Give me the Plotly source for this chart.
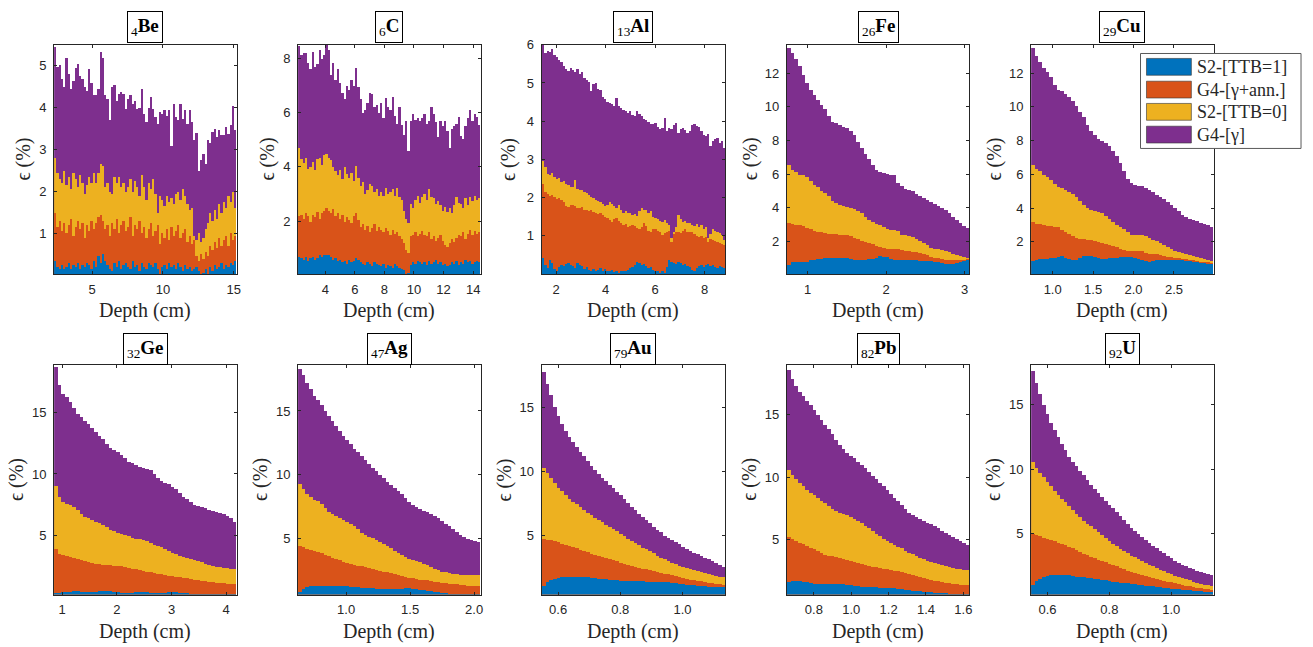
import numpy as np
import plotly.graph_objects as go

W, H = 1313, 647

# ---------------- data ----------------
elements = ["Be", "C", "Al", "Fe", "Cu", "Ge", "Ag", "Au", "Pb", "U"]
atomic_numbers = [4, 6, 13, 26, 29, 32, 47, 79, 82, 92]
depth_lo = [2.32, 2.16, 1.42, 0.737, 0.734, 0.854, 0.625, 0.547, 0.656, 0.547]
depth_hi = [15.2, 14.5, 8.83, 3.06, 2.99, 4.19, 2.05, 1.137, 1.632, 1.137]
eff_lo = [0.02, 0.05, 0.0, 0.06, 0.08, 0.25, 0.6, 0.4, 0.58, 0.28]
eff_hi = [5.5, 8.5, 6.005, 13.7, 13.7, 18.8, 18.6, 18.35, 19.0, 18.06]
x_tickvals = [[5, 10, 15], [4, 6, 8, 10, 12, 14], [2, 4, 6, 8], [1, 2, 3],
              [1.0, 1.5, 2.0, 2.5], [1, 2, 3, 4], [1.0, 1.5, 2.0], [0.6, 0.8, 1.0],
              [0.8, 1.0, 1.2, 1.4, 1.6], [0.6, 0.8, 1.0]]
x_tickfmt = ["", "", "", "", ".1f", "", ".1f", ".1f", ".1f", ".1f"]
y_tickvals = [[1, 2, 3, 4, 5], [2, 4, 6, 8], [1, 2, 3, 4, 5, 6],
              [2, 4, 6, 8, 10, 12], [2, 4, 6, 8, 10, 12],
              [5, 10, 15], [5, 10, 15], [5, 10, 15], [5, 10, 15], [5, 10, 15]]

series_names = ["S2-[TTB=1]", "G4-[γ+ann.]", "S2-[TTB=0]", "G4-[γ]"]
series_colors = ["#0072BD", "#D95319", "#EDB120", "#7E2F8E"]

# Be
be_ttb1 = [0.35, 0.2, 0.15, 0.25, 0.15, 0.2, 0.3, 0.15, 0.25, 0.2, 0.3, 0.15, 0.25, 0.2, 0.3, 0.25, 0.15, 0.35, 0.2, 0.45,
           0.3, 0.5, 0.35, 0.25, 0.15, 0.1, 0.3, 0.2, 0.35, 0.15, 0.25, 0.3, 0.2, 0.15, 0.35, 0.2, 0.25, 0.1, 0.3, 0.2,
           0.15, 0.3, 0.25, 0.2, 0.3, 0.15, 0.03, 0.2, 0.25, 0.15, 0.3, 0.2, 0.25, 0.15, 0.3, 0.2, 0.1, 0.25, 0.15, 0.2,
           0.1, 0.15, 0.2, 0.1, 0.02, 0.05, 0.15, 0.02, 0.2, 0.1, 0.25, 0.15, 0.2, 0.3, 0.15, 0.25, 0.2, 0.3, 0.25, 0.35]
be_ann = [1.5, 1.15, 1.3, 1.05, 1.25, 1.0, 1.2, 1.35, 0.95, 1.15, 1.3, 1.1, 1.25, 0.9, 1.2, 1.05, 1.3, 1.1, 1.25, 1.4,
          1.45, 1.3, 1.1, 1.2, 0.95, 1.25, 1.1, 1.35, 1.0, 1.2, 1.3, 1.05, 1.15, 1.4, 0.95, 1.2, 1.1, 1.3, 1.0, 1.15,
          0.9, 1.1, 1.25, 0.95, 1.05, 1.2, 0.75, 1.0, 0.9, 1.1, 0.85, 1.15, 0.95, 1.05, 1.2, 0.9, 1.0, 1.1, 0.8, 0.95,
          0.75, 0.85, 0.45, 0.35, 0.5, 0.4, 0.55, 0.45, 0.7, 0.6, 0.8, 0.65, 0.9, 0.7, 0.85, 0.95, 0.7, 1.0, 0.85, 0.95]
be_ttb0 = [2.8, 2.45, 2.3, 2.2, 2.5, 2.15, 2.35, 2.05, 2.45, 2.3, 2.1, 2.4, 2.2, 1.95, 2.15, 2.35, 2.2, 2.45, 2.2,
           2.45, 2.65, 2.6, 2.1, 2.2, 2.0, 1.95, 2.35, 2.2, 2.35, 2.1, 2.2, 2.0, 2.1, 2.3, 2.0, 2.25, 2.1, 1.9, 2.4,
           2.1, 1.8, 2.2, 2.05, 2.3, 1.95, 1.5, 1.9, 1.8, 1.65, 1.9, 1.75, 1.85, 1.7, 1.95, 2.0, 1.8, 2.05, 1.9, 1.7,
           1.55, 1.6, 0.95, 0.85, 1.0, 0.8, 0.9, 1.1, 1.25, 1.5, 1.3, 1.55, 1.35, 1.7, 1.5, 1.75, 1.6, 1.9, 1.75, 2.0, 1.6]
be_gamma = [5.45, 4.98, 5.02, 4.7, 4.5, 5.18, 4.8, 4.45, 4.65, 4.95, 5.05, 4.75, 4.7, 4.5, 4.4, 4.92, 4.6, 4.3, 4.3, 4.45,
            5.33, 5.2, 4.3, 4.2, 3.7, 4.5, 4.55, 4.17, 4.33, 4.37, 4.32, 3.98, 4.2, 4.3, 4.1, 4.17, 3.98, 4.0, 4.45, 3.86,
            3.66, 4.0, 4.25, 3.98, 3.78, 3.62, 3.9, 3.86, 3.94, 3.8, 3.95, 3.1, 4.1, 3.78, 3.7, 4.1, 3.74, 3.94, 3.62, 3.94,
            3.66, 3.23, 3.39, 2.5, 2.76, 2.9, 2.66, 3.23, 3.15, 3.42, 3.5, 3.3, 3.46, 3.35, 3.35, 3.54, 3.38, 3.6, 4.05, 3.46]

# C
c_ttb1 = [0.7, 0.65, 0.6, 0.7, 0.55, 0.65, 0.7, 0.6, 0.65, 0.75, 0.7, 0.75, 0.78, 0.75, 0.7, 0.6, 0.65, 0.55, 0.6, 0.5,
          0.55, 0.45, 0.6, 0.5, 0.55, 0.65, 0.6, 0.5, 0.45, 0.4, 0.5, 0.45, 0.35, 0.5, 0.45, 0.4, 0.35, 0.45, 0.3, 0.4,
          0.35, 0.3, 0.45, 0.35, 0.3, 0.25, 0.2, 0.05, 0.1, 0.4, 0.5, 0.45, 0.55, 0.5, 0.45, 0.5, 0.4, 0.55, 0.45, 0.5,
          0.6, 0.45, 0.5, 0.4, 0.45, 0.35, 0.4, 0.5, 0.45, 0.55, 0.4, 0.5, 0.45, 0.6, 0.5, 0.55, 0.45, 0.5, 0.55, 0.5]
c_ann = [2.2, 2.25, 2.1, 2.3, 2.2, 2.0, 2.25, 2.15, 2.35, 2.1, 2.3, 2.4, 2.5, 2.4, 2.3, 2.45, 2.2, 2.3, 2.1, 2.25,
         2.0, 2.15, 2.05, 1.95, 2.2, 2.3, 2.05, 1.8, 1.9, 1.7, 1.85, 1.6, 1.75, 1.9, 1.65, 1.8, 1.7, 1.6, 1.75, 1.65,
         1.5, 1.7, 1.55, 1.6, 1.45, 1.35, 1.2, 0.95, 0.85, 1.45, 1.5, 1.6, 1.45, 1.55, 1.65, 1.5, 1.45, 1.6, 1.35, 1.45,
         1.3, 1.4, 1.5, 1.3, 1.15, 1.05, 1.2, 1.35, 1.25, 1.4, 1.5, 1.45, 1.6, 1.35, 1.55, 1.7, 1.5, 1.65, 1.55, 1.6]
c_ttb0 = [4.7, 4.3, 4.15, 4.35, 3.95, 4.0, 4.2, 3.9, 4.3, 4.35, 4.1, 4.45, 4.5, 4.35, 4.25, 4.0, 3.85, 3.7, 3.9, 3.55,
          4.0, 3.75, 3.6, 3.8, 3.5, 4.05, 3.6, 3.3, 3.45, 3.0, 3.15, 3.4, 3.3, 3.1, 3.2, 2.95, 3.1, 2.95, 3.25, 3.0,
          3.1, 3.2, 2.95, 3.25, 2.9, 2.8, 2.4, 2.1, 1.95, 2.65, 2.5, 2.8, 2.95, 2.7, 2.9, 3.0, 2.8, 3.2, 2.9, 2.85,
          2.65, 2.75, 2.6, 2.4, 2.55, 2.35, 2.5, 2.3, 2.6, 2.9, 2.7, 2.65, 2.5, 2.85, 2.6, 2.9, 2.75, 2.95, 2.8, 2.85]
c_gamma = [8.45, 8.15, 8.2, 8.2, 7.85, 7.6, 8.25, 7.7, 7.8, 8.3, 8.0, 8.15, 8.5,
           8.3, 7.4, 7.85, 7.2, 7.6, 7.1, 6.75, 6.5, 7.0, 6.85, 7.2, 7.0, 7.65,
           6.95, 6.5, 6.0, 6.1, 6.35, 6.75, 6.7, 6.2, 6.3, 6.0, 6.35, 5.8,
           6.55, 6.2, 6.1, 6.6, 5.9, 5.6, 6.2, 5.55, 5.2, 5.7, 4.6,
           5.7, 5.95, 5.75, 5.8, 5.7, 5.8, 5.95, 5.6, 5.7, 6.2,
           5.95, 5.65, 5.1, 5.7, 5.5, 5.7, 5.35, 4.7,
           5.4, 5.5, 5.6, 5.85, 5.15, 5.05, 5.5, 5.8, 6.1, 5.7, 5.95, 5.85, 5.55]

# Al
al_ttb1 = [0.43, 0.25, 0.17, 0.39, 0.3, 0.15, 0.08, 0.2, 0.26, 0.22, 0.28, 0.3, 0.25, 0.21, 0.18, 0.3, 0.25, 0.21, 0.15, 0.2,
           0.13, 0.1, 0.15, 0.08, 0.12, 0.17, 0.1, 0.15, 0.08, 0.1, 0.13, 0.06, 0.1, 0.04, 0.08, 0.1, 0.08, 0.12, 0.17, 0.2,
           0.25, 0.34, 0.3, 0.26, 0.28, 0.22, 0.17, 0.2, 0.12, 0.08, 0.1, 0.04, 0.08, 0.05, 0.2, 0.39, 0.32, 0.3, 0.28, 0.34,
           0.3, 0.26, 0.28, 0.22, 0.2, 0.13, 0.1, 0.18, 0.21, 0.25, 0.2, 0.26, 0.28, 0.22, 0.25, 0.2, 0.17, 0.22, 0.2, 0.17]
al_ann = [2.37, 2.15, 2.1, 2.05, 2.08, 2.03, 1.98, 2.0, 1.95, 1.9, 1.8, 1.77, 1.82, 1.81, 1.78, 1.75, 1.73, 1.76, 1.7, 1.68,
          1.66, 1.68, 1.64, 1.62, 1.58, 1.6, 1.55, 1.51, 1.48, 1.42, 1.38, 1.45, 1.47, 1.4, 1.35, 1.3, 1.32, 1.25, 1.28, 1.3,
          1.26, 1.22, 1.2, 1.25, 1.34, 1.28, 1.15, 1.12, 1.18, 1.2, 1.15, 1.1, 1.03, 1.08, 1.12, 1.15, 0.85, 1.05, 1.1, 1.12,
          1.08, 1.15, 1.2, 1.12, 1.1, 1.12, 1.05, 1.0, 0.99, 1.02, 0.95, 0.98, 0.85, 0.92, 0.9, 0.88, 0.85, 0.82, 0.8, 0.78]
al_ttb0 = [2.98, 2.8, 2.62, 2.6, 2.65, 2.55, 2.5, 2.52, 2.42, 2.45, 2.38, 2.35, 2.3, 2.28, 2.46, 2.25, 2.2, 2.22, 2.15, 2.12,
           2.08, 2.03, 2.0, 1.95, 1.92, 1.9, 1.85, 1.8, 1.83, 1.9, 1.85, 1.8, 1.75, 1.81, 1.7, 1.6, 1.65, 1.62, 1.6, 1.55,
           1.58, 1.52, 1.65, 1.73, 1.7, 1.68, 1.6, 1.66, 1.5, 1.47, 1.45, 1.4, 1.38, 1.42, 1.35, 1.3, 0.95, 1.12, 1.25, 1.55,
           1.45, 1.38, 1.4, 1.34, 1.36, 1.3, 1.28, 1.32, 1.25, 1.3, 1.2, 1.25, 0.95, 1.05, 1.2, 1.15, 1.1, 1.08, 1.03, 0.9]
al_gamma = [6.0, 5.8, 5.85, 5.82, 5.9, 5.75, 5.7, 5.62, 5.55, 5.45, 5.38, 5.33, 5.4, 5.36, 5.3, 5.38, 5.25, 5.3, 5.15, 5.1,
            5.05, 4.8, 4.98, 5.0, 4.85, 4.82, 4.65, 4.6, 4.52, 4.5, 4.45, 4.4, 4.62, 4.42, 4.35, 4.3, 4.28, 4.22, 4.27, 4.18,
            4.14, 4.27, 4.2, 4.14, 4.08, 4.05, 4.0, 3.95, 3.93, 3.97, 3.85, 3.8, 3.84, 4.1, 3.75, 3.84, 3.8, 3.9, 3.97, 3.71,
            3.8, 3.84, 3.78, 3.71, 3.75, 3.9, 3.93, 3.88, 3.85, 3.75, 3.65, 3.62, 3.67, 3.37, 3.5, 3.54, 3.58, 3.45, 3.5, 3.32]

# Fe
fe_ttb1 = [0.6, 0.82, 0.82, 0.8, 0.8, 0.82, 0.9, 0.95, 0.98, 1.0, 1.02, 1.04, 1.05, 1.05, 1.05, 1.05, 1.02, 0.97, 0.94, 0.92,
           0.9, 0.92, 0.96, 1.0, 1.06, 1.13, 1.12, 1.08, 1.0, 0.92, 0.9, 0.9, 0.9, 0.93, 0.95, 0.92, 0.88, 0.85, 0.85, 0.85,
           0.83, 0.8, 0.75, 0.7, 0.66, 0.7, 0.75, 0.8, 0.85, 0.93]
fe_ann = [3.15, 3.05, 3.0, 2.98, 2.92, 2.85, 2.75, 2.65, 2.6, 2.56, 2.52, 2.48, 2.45, 2.44, 2.43, 2.41, 2.4, 2.33, 2.25, 2.15,
          2.08, 2.0, 1.95, 1.85, 1.78, 1.72, 1.65, 1.6, 1.6, 1.58, 1.55, 1.5, 1.45, 1.43, 1.4, 1.37, 1.33, 1.28, 1.2, 1.12,
          1.07, 1.02, 0.98, 0.95, 0.93, 0.9, 0.9, 0.92, 0.94, 0.96]
fe_ttb0 = [6.55, 6.3, 6.15, 6.0, 5.95, 5.85, 5.6, 5.4, 5.25, 5.05, 4.9, 4.7, 4.45, 4.33, 4.22, 4.15, 4.08, 4.02, 3.95, 3.82,
           3.7, 3.5, 3.3, 3.18, 3.08, 2.98, 2.87, 2.75, 2.7, 2.7, 2.65, 2.42, 2.38, 2.33, 2.28, 2.18, 2.08, 1.95, 1.8, 1.65,
           1.58, 1.55, 1.5, 1.45, 1.38, 1.3, 1.2, 1.13, 1.08, 1.05]
fe_gamma = [13.55, 13.2, 12.85, 12.45, 11.9, 11.45, 11.05, 10.75, 10.45, 10.15, 9.9, 9.5, 9.15, 9.05, 8.93, 8.85, 8.75, 8.6,
            8.35, 7.95, 7.6, 7.25, 6.9, 6.55, 6.28, 6.18, 6.1, 6.03, 6.0, 5.95, 5.5, 5.3, 5.15, 5.1, 5.0, 4.85, 4.7, 4.6,
            4.48, 4.38, 4.25, 4.15, 4.02, 3.88, 3.7, 3.5, 3.3, 3.12, 2.95, 2.82]

# Cu
cu_ttb1 = [0.88, 0.95, 0.98, 1.0, 1.02, 1.04, 1.07, 1.12, 1.15, 1.05, 0.97, 0.95, 0.95, 1.05, 1.15, 1.18, 1.2, 1.12, 1.03, 1.0,
           1.02, 1.05, 1.06, 1.08, 1.09, 1.1, 1.1, 1.1, 1.05, 0.98, 0.92, 0.88, 0.85, 0.88, 0.93, 0.95, 0.95, 0.95, 0.95, 0.95,
           0.95, 0.93, 0.9, 0.86, 0.83, 0.8, 0.77, 0.75, 0.72, 0.7]
cu_ann = [3.2, 3.1, 3.05, 3.0, 2.97, 2.95, 2.92, 2.88, 2.75, 2.6, 2.5, 2.38, 2.25, 2.2, 2.17, 2.14, 2.1, 2.06, 2.0, 1.95,
          1.9, 1.85, 1.78, 1.7, 1.62, 1.55, 1.48, 1.45, 1.45, 1.45, 1.45, 1.35, 1.27, 1.28, 1.3, 1.25, 1.17, 1.13, 1.1, 1.06,
          1.03, 1.0, 0.98, 0.95, 0.92, 0.88, 0.85, 0.82, 0.8, 0.78]
cu_ttb0 = [6.55, 6.35, 6.2, 6.0, 5.85, 5.7, 5.45, 5.3, 5.22, 5.12, 5.0, 4.85, 4.7, 4.42, 4.2, 4.0, 3.88, 3.82, 3.78, 3.7,
           3.55, 3.4, 3.2, 3.0, 2.9, 2.78, 2.6, 2.45, 2.45, 2.45, 2.45, 2.35, 2.25, 2.15, 2.05, 1.95, 1.83, 1.72, 1.6, 1.48,
           1.4, 1.35, 1.3, 1.25, 1.2, 1.14, 1.05, 1.0, 0.95, 0.9]
cu_gamma = [13.5, 13.05, 12.7, 12.35, 12.1, 11.8, 11.35, 11.05, 10.95, 10.8, 10.6, 10.35, 10.1, 9.75, 9.45, 8.95, 8.6, 8.35,
            8.15, 8.02, 7.9, 7.7, 7.4, 7.1, 6.7, 6.2, 5.75, 5.5, 5.38, 5.35, 5.35, 5.22, 5.1, 4.95, 4.8, 4.7, 4.55, 4.4,
            4.2, 4.02, 3.85, 3.62, 3.5, 3.4, 3.32, 3.23, 3.12, 3.06, 3.0, 2.92]

# Ge
ge_ttb1 = [0.35, 0.38, 0.42, 0.45, 0.48, 0.5, 0.5, 0.48, 0.45, 0.44, 0.45, 0.48, 0.52, 0.55, 0.55, 0.52, 0.48, 0.44, 0.4, 0.38,
           0.36, 0.38, 0.42, 0.45, 0.46, 0.44, 0.4, 0.37, 0.35, 0.36, 0.38, 0.42, 0.45, 0.44, 0.4, 0.36, 0.34, 0.33, 0.33, 0.32,
           0.32, 0.31, 0.3, 0.3, 0.3, 0.3, 0.3, 0.3, 0.3, 0.3]
ge_ann = [3.9, 3.55, 3.45, 3.35, 3.25, 3.18, 3.1, 3.02, 2.95, 2.85, 2.78, 2.72, 2.68, 2.65, 2.62, 2.6, 2.58, 2.55, 2.52, 2.48,
          2.42, 2.35, 2.28, 2.2, 2.13, 2.07, 2.03, 1.98, 1.93, 1.88, 1.82, 1.77, 1.72, 1.68, 1.65, 1.62, 1.58, 1.52, 1.46, 1.41,
          1.36, 1.31, 1.27, 1.24, 1.21, 1.18, 1.15, 1.13, 1.11, 1.1]
ge_ttb0 = [9.0, 8.1, 7.7, 7.6, 7.45, 7.3, 7.05, 6.75, 6.55, 6.4, 6.25, 6.15, 6.0, 5.85, 5.7, 5.5, 5.35, 5.2, 5.1, 5.02,
           4.95, 4.85, 4.75, 4.7, 4.63, 4.55, 4.4, 4.25, 4.15, 4.05, 3.9, 3.75, 3.6, 3.5, 3.4, 3.3, 3.22, 3.15, 3.05, 2.95,
           2.85, 2.75, 2.67, 2.58, 2.5, 2.45, 2.42, 2.38, 2.33, 2.28]
ge_gamma = [18.6, 17.2, 16.45, 16.2, 15.8, 15.3, 14.85, 14.6, 14.3, 14.0, 13.7, 13.35, 13.05, 12.8, 12.45, 12.1, 11.95, 11.8,
            11.55, 11.25, 11.0, 10.85, 10.7, 10.55, 10.45, 10.38, 10.3, 9.95, 9.7, 9.45, 9.3, 9.15, 8.95, 8.75, 8.45, 8.15,
            7.95, 7.75, 7.5, 7.38, 7.3, 7.22, 7.12, 7.0, 6.88, 6.8, 6.72, 6.6, 6.42, 6.1]

# Ag
ag_ttb1 = [0.8, 1.05, 1.2, 1.28, 1.3, 1.3, 1.3, 1.3, 1.3, 1.3, 1.3, 1.3, 1.28, 1.25, 1.22, 1.18, 1.15, 1.13, 1.12, 1.1,
           1.08, 1.07, 1.06, 1.05, 1.03, 1.02, 1.0, 1.02, 1.06, 1.1, 1.08, 1.04, 1.0, 0.96, 0.92, 0.89, 0.86, 0.82, 0.78, 0.74,
           0.7, 0.66, 0.63, 0.61, 0.6, 0.6, 0.6, 0.6, 0.6, 0.6]
ag_ann = [4.4, 4.3, 4.2, 4.1, 4.03, 3.95, 3.85, 3.72, 3.6, 3.48, 3.38, 3.27, 3.15, 3.08, 3.0, 2.93, 2.87, 2.8, 2.73, 2.67,
          2.6, 2.53, 2.47, 2.4, 2.33, 2.27, 2.2, 2.15, 2.08, 2.0, 1.93, 1.86, 1.8, 1.77, 1.73, 1.7, 1.66, 1.6, 1.55, 1.5,
          1.47, 1.44, 1.41, 1.39, 1.36, 1.33, 1.3, 1.28, 1.26, 1.25]
ag_ttb0 = [9.3, 8.9, 8.45, 8.25, 8.05, 7.9, 7.7, 7.4, 7.1, 6.9, 6.75, 6.6, 6.45, 6.3, 6.12, 5.95, 5.7, 5.45, 5.25, 5.1,
           5.0, 4.88, 4.7, 4.55, 4.4, 4.25, 4.05, 3.85, 3.7, 3.55, 3.4, 3.3, 3.25, 3.12, 3.0, 2.88, 2.75, 2.6, 2.5, 2.4,
           2.33, 2.27, 2.2, 2.17, 2.15, 2.14, 2.14, 2.15, 2.15, 2.15]
ag_gamma = [18.3, 17.8, 17.2, 16.7, 16.2, 15.85, 15.45, 15.0, 14.6, 14.2, 13.85, 13.4, 13.0, 12.7, 12.4, 12.05, 11.75, 11.45,
            11.15, 10.85, 10.55, 10.25, 9.95, 9.7, 9.45, 9.2, 8.95, 8.7, 8.45, 8.15, 7.85, 7.6, 7.45, 7.3, 7.18, 7.05, 6.9,
            6.78, 6.6, 6.4, 6.15, 5.95, 5.75, 5.5, 5.3, 5.1, 4.92, 4.85, 4.8, 4.75]

# Au
au_ttb1 = [1.1, 1.35, 1.5, 1.6, 1.68, 1.74, 1.78, 1.8, 1.8, 1.8, 1.78, 1.76, 1.73, 1.7, 1.67, 1.64, 1.61, 1.58, 1.56, 1.53,
           1.51, 1.49, 1.48, 1.46, 1.45, 1.44, 1.43, 1.42, 1.41, 1.4, 1.4, 1.39, 1.38, 1.37, 1.35, 1.33, 1.29, 1.25, 1.21, 1.18,
           1.15, 1.12, 1.09, 1.06, 1.03, 1.0, 0.99, 0.98, 0.96, 0.95]
au_ann = [4.75, 4.7, 4.63, 4.55, 4.47, 4.38, 4.3, 4.2, 4.1, 4.0, 3.9, 3.8, 3.7, 3.6, 3.5, 3.42, 3.35, 3.28, 3.2, 3.1,
          3.0, 2.9, 2.8, 2.72, 2.65, 2.57, 2.5, 2.43, 2.37, 2.3, 2.23, 2.17, 2.1, 2.03, 1.97, 1.9, 1.83, 1.76, 1.7, 1.63,
          1.56, 1.5, 1.46, 1.42, 1.37, 1.33, 1.28, 1.24, 1.19, 1.13]
au_ttb0 = [10.3, 9.9, 9.5, 9.1, 8.75, 8.5, 8.15, 7.85, 7.65, 7.45, 7.25, 7.0, 6.8, 6.6, 6.38, 6.22, 6.08, 5.87, 5.68, 5.52,
           5.35, 5.15, 4.95, 4.75, 4.6, 4.45, 4.25, 4.05, 3.92, 3.78, 3.62, 3.45, 3.28, 3.15, 3.02, 2.9, 2.78, 2.65, 2.55, 2.45,
           2.37, 2.3, 2.22, 2.14, 2.08, 2.02, 1.95, 1.88, 1.8, 1.73]
au_gamma = [17.8, 16.9, 16.0, 15.1, 14.4, 13.7, 13.2, 12.7, 12.3, 11.9, 11.55, 11.2, 10.85, 10.45, 10.1, 9.85, 9.55, 9.25,
            8.95, 8.7, 8.4, 8.15, 7.85, 7.55, 7.25, 7.0, 6.7, 6.45, 6.2, 6.0, 5.7, 5.45, 5.25, 5.0, 4.8, 4.65, 4.5, 4.32,
            4.15, 3.98, 3.82, 3.68, 3.55, 3.42, 3.28, 3.15, 3.0, 2.87, 2.72, 2.58]

# Pb
pb_ttb1 = [1.6, 1.7, 1.7, 1.68, 1.62, 1.56, 1.5, 1.45, 1.42, 1.4, 1.4, 1.4, 1.4, 1.4, 1.4, 1.4, 1.38, 1.33, 1.28, 1.23,
           1.19, 1.15, 1.15, 1.15, 1.15, 1.14, 1.13, 1.12, 1.1, 1.07, 1.03, 0.99, 0.96, 0.93, 0.9, 0.87, 0.85, 0.82, 0.79, 0.77,
           0.74, 0.71, 0.68, 0.66, 0.64, 0.62, 0.61, 0.6, 0.6, 0.6]
pb_ann = [5.2, 5.05, 4.9, 4.75, 4.62, 4.48, 4.35, 4.2, 4.05, 3.9, 3.78, 3.7, 3.63, 3.56, 3.5, 3.43, 3.37, 3.3, 3.22, 3.13,
          3.05, 2.97, 2.9, 2.82, 2.75, 2.7, 2.64, 2.59, 2.54, 2.48, 2.43, 2.37, 2.3, 2.23, 2.16, 2.09, 2.02, 1.94, 1.86, 1.78,
          1.7, 1.63, 1.57, 1.52, 1.48, 1.44, 1.4, 1.37, 1.34, 1.31]
pb_ttb0 = [10.6, 10.2, 9.85, 9.55, 9.25, 9.0, 8.75, 8.55, 8.35, 8.1, 7.9, 7.7, 7.45, 7.25, 7.1, 7.02, 6.95, 6.8, 6.65, 6.5,
           6.35, 6.1, 5.9, 5.7, 5.45, 5.25, 5.05, 4.85, 4.7, 4.55, 4.42, 4.3, 4.1, 3.95, 3.8, 3.67, 3.53, 3.4, 3.3, 3.18,
           3.1, 3.02, 2.95, 2.88, 2.8, 2.73, 2.65, 2.6, 2.57, 2.55]
pb_gamma = [18.6, 17.9, 17.35, 16.85, 16.5, 16.1, 15.75, 15.4, 15.0, 14.6, 14.2, 13.85, 13.45, 13.0, 12.6, 12.25, 11.95, 11.7,
            11.5, 11.25, 11.0, 10.75, 10.45, 10.1, 9.85, 9.55, 9.25, 8.95, 8.65, 8.35, 8.05, 7.75, 7.45, 7.15, 6.95, 6.8,
            6.65, 6.5, 6.35, 6.2, 6.05, 5.9, 5.7, 5.5, 5.35, 5.2, 5.05, 4.9, 4.75, 4.55]

# U
u_ttb1 = [1.05, 1.3, 1.5, 1.62, 1.72, 1.77, 1.8, 1.8, 1.8, 1.78, 1.76, 1.72, 1.67, 1.64, 1.61, 1.58, 1.55, 1.51, 1.47, 1.43,
          1.39, 1.34, 1.28, 1.23, 1.2, 1.17, 1.14, 1.11, 1.08, 1.04, 1.0, 0.97, 0.94, 0.91, 0.88, 0.84, 0.8, 0.76, 0.72, 0.7,
          0.68, 0.66, 0.63, 0.6, 0.58, 0.56, 0.53, 0.5, 0.48, 0.46]
u_ann = [4.98, 4.88, 4.78, 4.68, 4.58, 4.48, 4.39, 4.3, 4.2, 4.1, 3.98, 3.87, 3.74, 3.6, 3.45, 3.32, 3.2, 3.08, 2.97, 2.88,
         2.78, 2.67, 2.56, 2.45, 2.34, 2.22, 2.12, 2.02, 1.92, 1.83, 1.76, 1.69, 1.62, 1.55, 1.48, 1.42, 1.35, 1.28, 1.21, 1.14,
         1.08, 1.03, 0.97, 0.92, 0.87, 0.82, 0.77, 0.72, 0.67, 0.62]
u_ttb0 = [10.55, 10.1, 9.7, 9.35, 9.0, 8.65, 8.3, 7.95, 7.7, 7.42, 7.15, 6.85, 6.55, 6.25, 5.95, 5.75, 5.55, 5.32, 5.1, 4.88,
          4.65, 4.45, 4.22, 4.0, 3.82, 3.65, 3.46, 3.3, 3.16, 3.02, 2.88, 2.74, 2.6, 2.46, 2.32, 2.2, 2.08, 1.97, 1.86, 1.75,
          1.64, 1.55, 1.46, 1.37, 1.28, 1.2, 1.12, 1.05, 1.0, 0.96]
u_gamma = [17.6, 16.7, 15.8, 15.0, 14.25, 13.6, 13.0, 12.45, 11.95, 11.45, 10.95, 10.55, 10.2, 9.85, 9.5, 9.15, 8.8, 8.45,
           8.15, 7.85, 7.55, 7.25, 6.95, 6.65, 6.35, 6.05, 5.75, 5.45, 5.2, 4.95, 4.7, 4.47, 4.27, 4.07, 3.87, 3.67, 3.47,
           3.27, 3.07, 2.9, 2.75, 2.6, 2.47, 2.34, 2.22, 2.1, 2.0, 1.92, 1.85, 1.78]

panel_series = [
    [be_ttb1, be_ann, be_ttb0, be_gamma],
    [c_ttb1, c_ann, c_ttb0, c_gamma],
    [al_ttb1, al_ann, al_ttb0, al_gamma],
    [fe_ttb1, fe_ann, fe_ttb0, fe_gamma],
    [cu_ttb1, cu_ann, cu_ttb0, cu_gamma],
    [ge_ttb1, ge_ann, ge_ttb0, ge_gamma],
    [ag_ttb1, ag_ann, ag_ttb0, ag_gamma],
    [au_ttb1, au_ann, au_ttb0, au_gamma],
    [pb_ttb1, pb_ann, pb_ttb0, pb_gamma],
    [u_ttb1, u_ann, u_ttb0, u_gamma],
]

# ---------------- layout geometry (pixels) ----------------
col_left = [54.3, 299.0, 543.3, 789.3, 1034.3]
col_right = [237.3, 482.0, 727.3, 972.3, 1217.3]
row_top = [38.0, 362.0]
row_bottom = [270.0, 594.0]
ytitle_offset = [31, 31, 33, 37, 37, 37, 37, 37, 37, 37]

TICK_FONT = dict(family="Liberation Sans", size=13, color="#262626")
SERIF = "Liberation Serif"
AXCOL = "#262626"


def px_x(v):
    return v / W


def px_y(v):
    return 1 - v / H


fig = go.Figure()
annotations = []
shapes = []
layout_axes = {}

for k in range(10):
    r, c = divmod(k, 5)
    ax = "" if k == 0 else str(k + 1)
    xref, yref = "x" + ax, "y" + ax
    lo, hi = depth_lo[k], depth_hi[k]
    series = panel_series[k]
    # draw back-to-front: tallest (G4-[γ]) first
    for s in [3, 2, 1, 0]:
        vals = series[s]
        n = len(vals)
        w = (hi - lo) / n
        xs = lo + w * (np.arange(n) + 0.5)
        fig.add_trace(go.Bar(
            x=xs, y=vals, width=w, xaxis=xref, yaxis=yref,
            marker=dict(color=series_colors[s], line=dict(width=0)),
            name=series_names[s], showlegend=False,
        ))
    l, rgt = col_left[c], col_right[c]
    t, b = row_top[r], row_bottom[r]
    layout_axes["xaxis" + ax] = dict(
        domain=[px_x(l), px_x(rgt)], range=[lo, hi], anchor=yref,
        showline=True, mirror="ticks", linecolor=AXCOL, linewidth=1,
        ticks="inside", ticklen=3, tickwidth=1, tickcolor=AXCOL,
        tickvals=x_tickvals[k], tickformat=x_tickfmt[k], tickfont=TICK_FONT,
        showgrid=False, zeroline=False, ticklabelstandoff=3,
    )
    layout_axes["yaxis" + ax] = dict(
        domain=[px_y(b), px_y(t)], range=[eff_lo[k], eff_hi[k]], anchor=xref,
        showline=True, mirror="ticks", linecolor=AXCOL, linewidth=1,
        ticks="inside", ticklen=3, tickwidth=1, tickcolor=AXCOL,
        tickvals=y_tickvals[k], tickfont=TICK_FONT,
        showgrid=False, zeroline=False, ticklabelstandoff=4,
    )
    cx = (l + rgt) / 2
    # panel title box
    annotations.append(dict(
        x=px_x(cx), y=px_y(20 if r == 0 else 346), xref="paper", yref="paper",
        text=f"<sub>{atomic_numbers[k]}</sub><b>{elements[k]}</b>",
        showarrow=False, xanchor="center", yanchor="middle",
        font=dict(family=SERIF, size=19, color="black"),
        bordercolor="black", borderwidth=1, borderpad=3, bgcolor="white",
    ))
    # x title
    annotations.append(dict(
        x=px_x(cx), y=px_y(b + 37), xref="paper", yref="paper",
        text="Depth (cm)", showarrow=False, xanchor="center", yanchor="middle",
        font=dict(family=SERIF, size=20, color="#262626"),
    ))
    # y title
    annotations.append(dict(
        x=px_x(l - ytitle_offset[k]), y=px_y((t + b) / 2), xref="paper", yref="paper",
        text="ϵ (%)", showarrow=False, xanchor="center", yanchor="middle", textangle=-90,
        font=dict(family=SERIF, size=20, color="#262626"),
    ))

# ---------------- custom legend ----------------
leg_l, leg_r, leg_t, leg_b = 1144, 1305, 47, 143
shapes.append(dict(type="rect", xref="paper", yref="paper",
                   x0=px_x(leg_l), x1=px_x(leg_r), y0=px_y(leg_b), y1=px_y(leg_t),
                   line=dict(color="#5a5a5a", width=1), fillcolor="white", layer="above"))
row_centers = [60.5, 83.5, 106.0, 129.0]
for i in range(4):
    yc = row_centers[i]
    shapes.append(dict(type="rect", xref="paper", yref="paper",
                       x0=px_x(1150), x1=px_x(1195), y0=px_y(yc + 8.5), y1=px_y(yc - 8.5),
                       line=dict(color="#333333", width=0.6), fillcolor=series_colors[i], layer="above"))
    annotations.append(dict(
        x=px_x(1199), y=px_y(yc), xref="paper", yref="paper", text=series_names[i],
        showarrow=False, xanchor="left", yanchor="middle",
        font=dict(family=SERIF, size=18, color="#262626"),
    ))

fig.update_layout(
    width=W, height=H, margin=dict(l=0, r=0, t=0, b=0),
    paper_bgcolor="white", plot_bgcolor="white",
    barmode="overlay", bargap=0, showlegend=False,
    annotations=annotations, shapes=shapes,
    **layout_axes,
)

fig.write_html("out.html")
